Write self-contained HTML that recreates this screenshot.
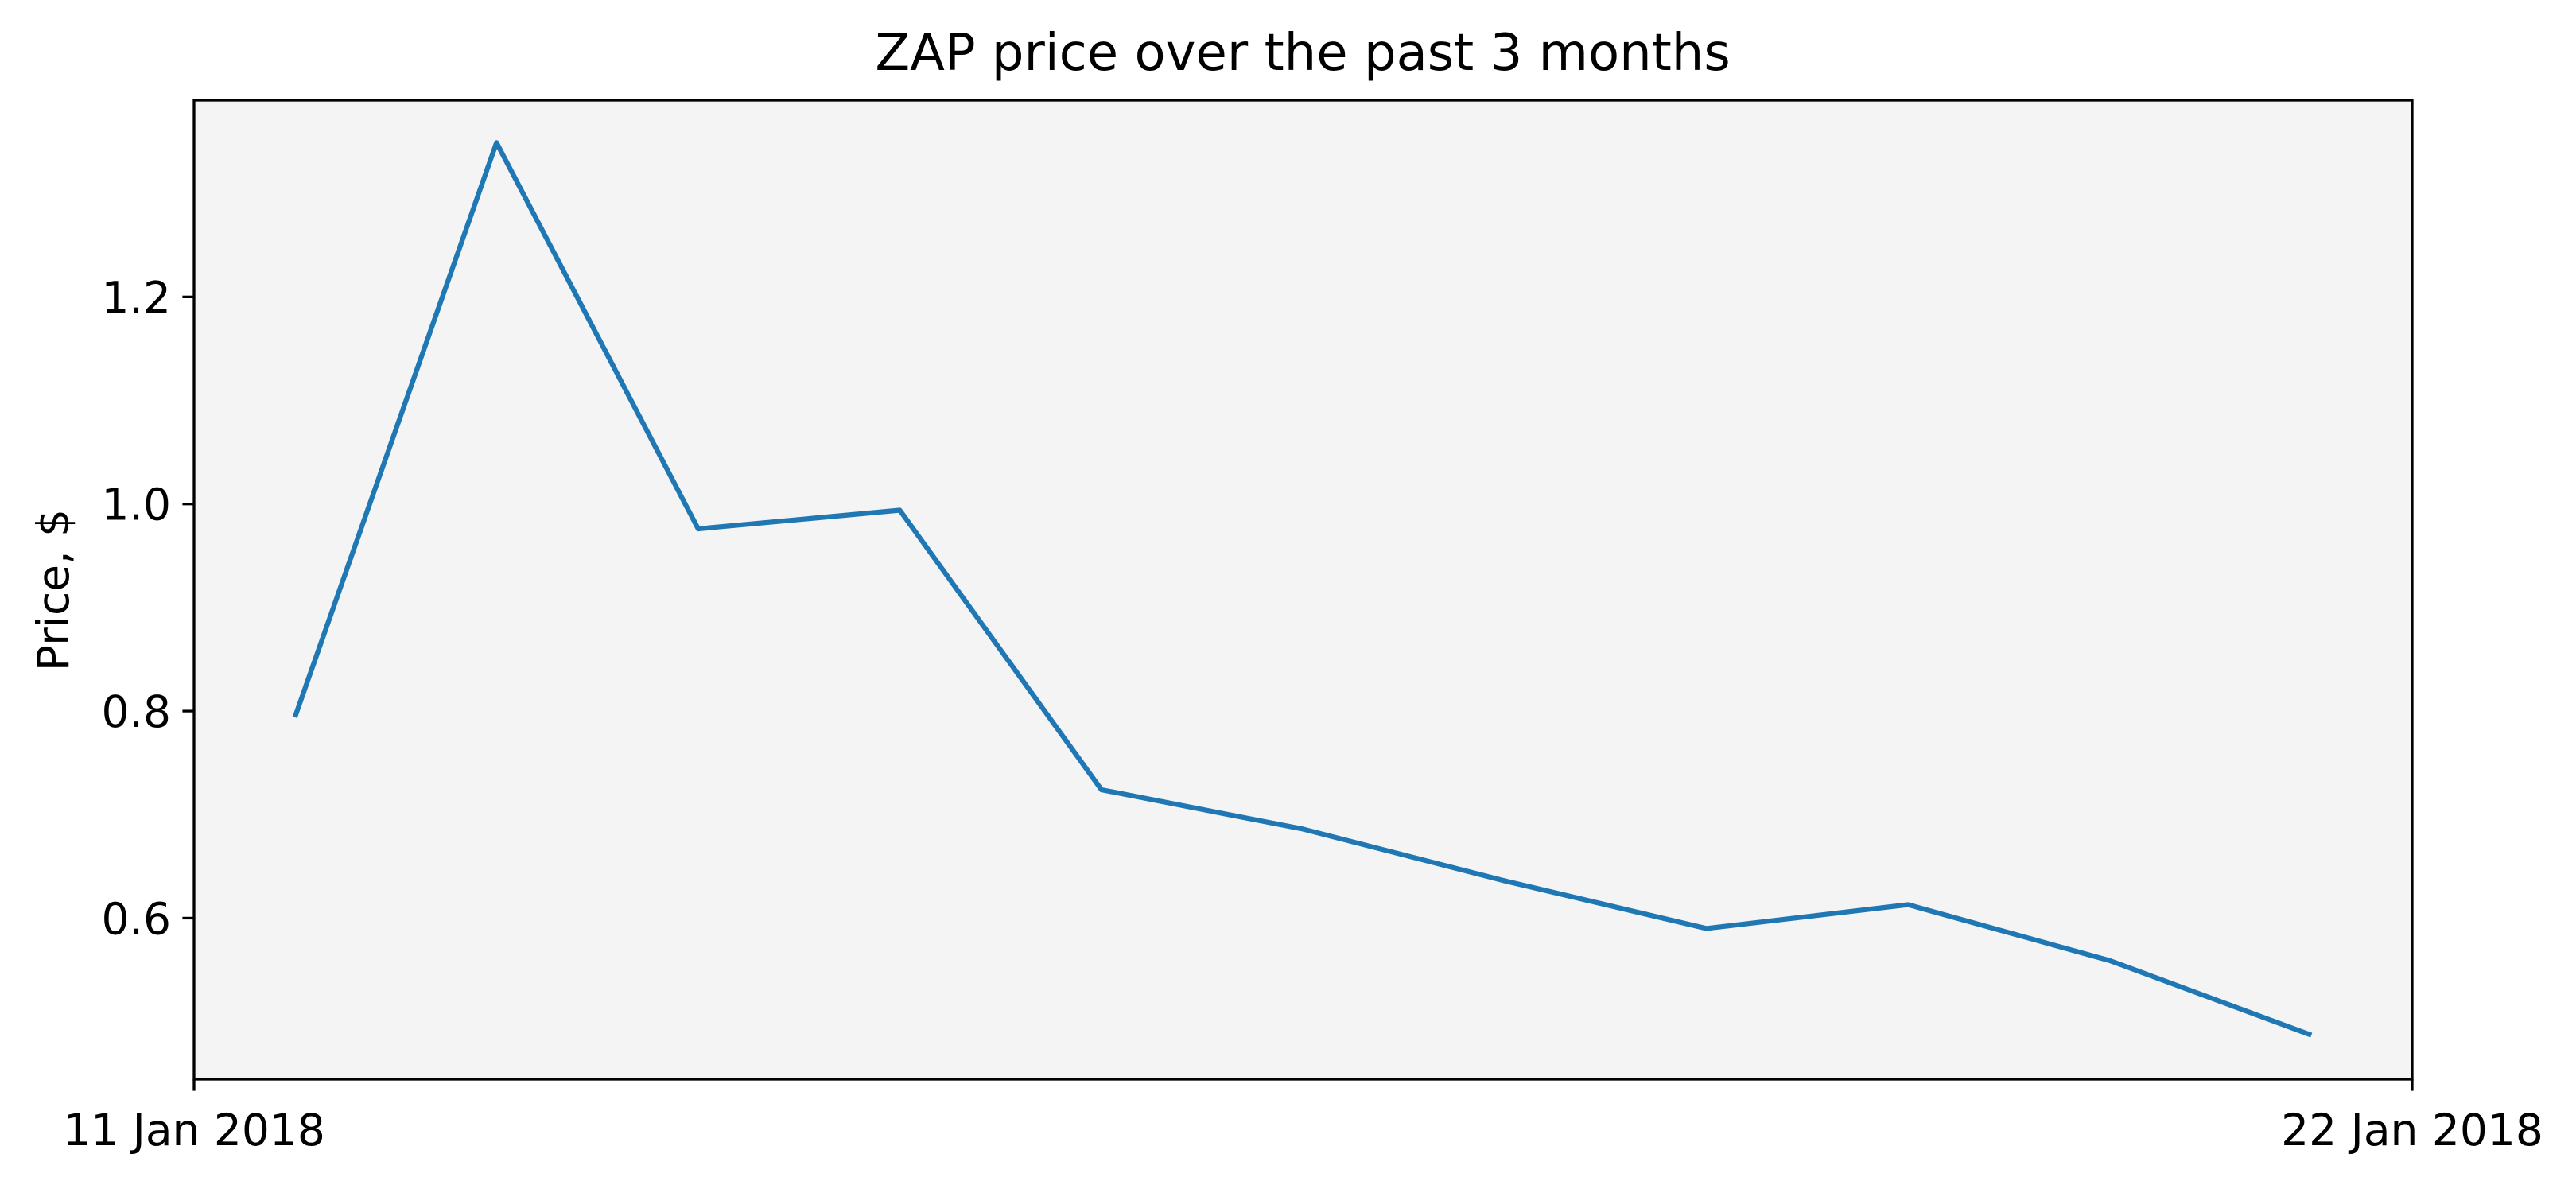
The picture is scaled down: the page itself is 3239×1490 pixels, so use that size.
<!DOCTYPE html>
<html><head><meta charset="utf-8"><style>
html,body{margin:0;padding:0;background:#fff;}
svg{display:block;font-family:"DejaVu Sans","Liberation Sans",sans-serif;}
</style></head><body>
<svg id="chart" width="3239" height="1490" viewBox="0 0 3239 1490">
<rect x="244" y="126" width="2789" height="1231" fill="#f4f4f4"/>
<g id="marks"></g>
<rect x="244" y="126" width="2789" height="1231" fill="none" stroke="#000" stroke-width="3.3"/>
<text x="1638" y="88" font-size="64" text-anchor="middle">ZAP price over the past 3 months</text>
<text transform="translate(86,742) rotate(-90)" font-size="55" text-anchor="middle">Price, $</text>
<g id="axes"></g>
</svg>
<script>
const days = [0.5,1.5,2.5,3.5,4.5,5.5,6.5,7.5,8.5,9.5,10.5];
const prices = [0.794,1.349,0.976,0.994,0.724,0.686,0.636,0.590,0.613,0.559,0.487];
const yTicks = [0.6,0.8,1.0,1.2];
const yTickLabels = ["0.6","0.8","1.0","1.2"];
const xTicks = [0,11];
const xTickLabels = ["11 Jan 2018","22 Jan 2018"];

const L=244,R=3033,T=126,B=1357,yMin=0.4444,yMax=1.390,xMin=0,xMax=11;
const NS="http://www.w3.org/2000/svg";
function xs(d){return L+(d-xMin)/(xMax-xMin)*(R-L);}
function ys(v){return B-(v-yMin)/(yMax-yMin)*(B-T);}
const marks=document.getElementById('marks'), axes=document.getElementById('axes');
const line=document.createElementNS(NS,'polyline');
line.setAttribute('points',days.map((d,i)=>xs(d)+','+ys(prices[i])).join(' '));
line.setAttribute('fill','none');line.setAttribute('stroke','#1f77b4');
line.setAttribute('stroke-width','6.25');line.setAttribute('stroke-linejoin','round');


marks.appendChild(line);
yTicks.forEach((v,i)=>{
  const y=ys(v);
  const t=document.createElementNS(NS,'line');
  t.setAttribute('x1',L-14.6);t.setAttribute('x2',L);t.setAttribute('y1',y);t.setAttribute('y2',y);
  t.setAttribute('stroke','#000');t.setAttribute('stroke-width','3.3');
  
  
  axes.appendChild(t);
  const tx=document.createElementNS(NS,'text');
  tx.setAttribute('x',L-29);tx.setAttribute('y',y+20);tx.setAttribute('font-size','55');
  tx.setAttribute('text-anchor','end');tx.textContent=yTickLabels[i];
  
  
  axes.appendChild(tx);
});
xTicks.forEach((d,i)=>{
  const x=xs(d);
  const t=document.createElementNS(NS,'line');
  t.setAttribute('x1',x);t.setAttribute('x2',x);t.setAttribute('y1',B);t.setAttribute('y2',B+14.6);
  t.setAttribute('stroke','#000');t.setAttribute('stroke-width','3.3');
  
  
  axes.appendChild(t);
  const tx=document.createElementNS(NS,'text');
  tx.setAttribute('x',x);tx.setAttribute('y',1440);tx.setAttribute('font-size','55');
  tx.setAttribute('text-anchor','middle');tx.textContent=xTickLabels[i];
  
  
  axes.appendChild(tx);
});
</script>
</body></html>
